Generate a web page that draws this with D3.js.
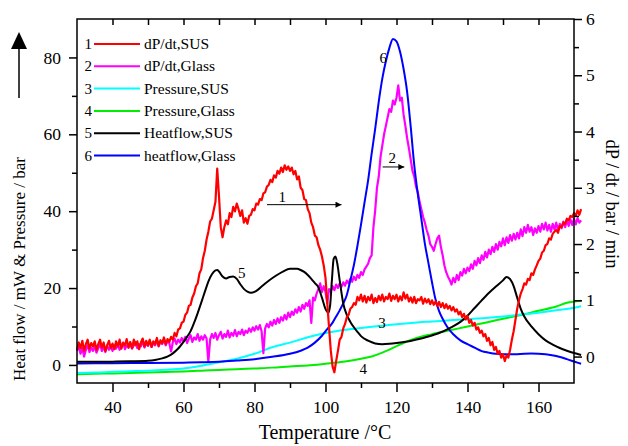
<!DOCTYPE html>
<html><head><meta charset="utf-8">
<script src="https://cdn.jsdelivr.net/npm/d3@7"></script>
<style>
body{margin:0;background:#fff;}
svg{display:block;}
svg text{font-family:"Liberation Serif","Times New Roman",serif !important;fill:#000;}
</style></head>
<body><svg id="c" width="628" height="446"></svg>
<script>
// ---- data ----
const legendLabels = ["dP/dt,SUS","dP/dt,Glass","Pressure,SUS","Pressure,Glass","Heatflow,SUS","heatflow,Glass"];
const seriesColors = ["#ff0000","#ff00ff","#00ffff","#00ee00","#000000","#0000ff"];
const xTicks = [40,60,80,100,120,140,160];
const yLeftTicks = [0,20,40,60,80];
const yRightTicks = [0,1,2,3,4,5,6];

// dP/dt series sampled every 0.5 °C from 30 °C
const dpStart = 30, dpStep = 0.5;
const dpSUS = [
0.12,0.25,0.15,0.28,0.1,0.22,0.3,0.14,0.24,0.18,
0.27,0.12,0.22,0.3,0.16,0.25,0.1,0.2,0.28,0.15,
0.23,0.13,0.27,0.18,0.3,0.14,0.24,0.2,0.31,0.16,
0.26,0.15,0.3,0.2,0.27,0.13,0.25,0.32,0.18,0.28,
0.2,0.3,0.17,0.27,0.22,0.33,0.19,0.29,0.24,0.34,
0.22,0.31,0.26,0.35,0.3,0.42,0.36,0.48,0.5,0.6,
0.62,0.74,0.78,0.9,0.92,1.05,1.12,1.25,1.3,1.48,
1.55,1.75,1.88,2.08,2.22,2.4,2.45,2.6,2.75,3.34,
2.85,2.3,2.12,2.3,2.42,2.35,2.55,2.48,2.66,2.58,
2.72,2.62,2.5,2.6,2.38,2.46,2.36,2.5,2.52,2.62,
2.6,2.72,2.7,2.8,2.78,2.9,2.92,3.02,3.05,3.14,
3.1,3.22,3.18,3.3,3.25,3.36,3.28,3.4,3.32,3.38,
3.3,3.36,3.24,3.3,3.15,3.2,3.0,2.96,2.8,2.78,
2.62,2.55,2.38,2.3,2.15,2.12,1.98,1.9,1.78,1.62,
1.4,0.95,0.52,0.1,-0.18,-0.28,-0.08,0.1,0.3,0.35,
0.5,0.58,0.7,0.74,0.85,0.88,0.95,0.92,1.06,1.0,
1.1,0.98,1.08,0.96,1.06,1.0,1.1,0.95,1.04,0.97,
1.08,1.0,1.1,0.98,1.06,1.02,1.12,0.99,1.08,1.02,
1.1,0.98,1.07,1.0,1.14,1.03,1.1,0.98,1.05,0.96,
1.06,0.95,1.02,1.0,1.06,0.94,1.03,0.96,1.02,0.93,
1.0,0.92,0.98,0.9,0.97,0.88,0.95,0.86,0.93,0.85,
0.9,0.82,0.88,0.8,0.84,0.75,0.8,0.7,0.76,0.66,
0.72,0.6,0.65,0.55,0.6,0.48,0.52,0.42,0.46,0.36,
0.4,0.28,0.33,0.2,0.26,0.12,0.17,0.05,0.1,-0.02,
0.04,-0.08,0.02,-0.02,0.12,0.3,0.45,0.65,0.85,1.0,
1.12,1.2,1.3,1.28,1.38,1.36,1.48,1.45,1.55,1.62,
1.7,1.74,1.85,1.88,1.98,2.0,2.1,2.08,2.18,2.22,
2.25,2.2,2.32,2.3,2.38,2.36,2.45,2.42,2.5,2.48,
2.55,2.5,2.6,2.52,2.62];
const dpGlass = [
0.1,0.18,0.05,0.15,0.0,0.12,0.2,0.08,0.16,0.1,
0.18,0.07,0.15,0.22,0.1,0.17,0.08,0.2,0.12,0.18,
0.1,0.2,0.14,0.22,0.12,0.19,0.25,0.13,0.2,0.16,
0.24,0.14,0.2,0.26,0.15,0.22,0.18,0.27,0.16,0.23,
0.19,0.28,0.17,0.25,0.2,0.3,0.18,0.26,0.22,0.3,
0.2,0.28,0.24,0.09,0.26,0.32,0.22,0.3,0.25,0.33,
0.27,0.35,0.24,0.32,0.38,0.26,0.34,0.3,0.4,0.28,
0.36,0.3,0.38,0.32,-0.09,0.3,0.4,0.33,0.42,0.3,
0.38,0.44,0.32,0.4,0.35,0.46,0.34,0.42,0.37,0.47,
0.36,0.44,0.4,0.48,0.38,0.46,0.42,0.5,0.44,0.52,
0.46,0.54,0.48,0.56,0.45,0.06,0.5,0.58,0.52,0.62,
0.55,0.65,0.58,0.68,0.6,0.7,0.64,0.74,0.66,0.78,
0.7,0.8,0.74,0.84,0.78,0.88,0.8,0.92,0.85,0.95,
0.9,1.0,0.6,1.05,1.0,1.12,1.2,1.3,1.15,1.25,
1.15,0.95,1.2,1.15,1.25,1.18,1.28,1.22,1.3,1.24,
1.32,1.26,1.35,1.3,1.38,1.33,1.42,1.36,1.45,1.4,
1.5,1.45,1.55,1.6,1.65,1.75,1.8,2.3,2.6,3.0,
3.2,3.55,3.75,3.95,4.1,4.25,4.4,4.35,4.55,4.48,
4.6,4.82,4.55,4.6,4.3,4.1,3.88,3.7,3.5,3.3,
3.2,3.02,2.92,2.75,2.62,2.48,2.38,2.25,2.15,2.0,
1.95,1.88,2.0,2.1,2.15,1.95,1.8,1.62,1.5,1.42,
1.36,1.28,1.4,1.32,1.45,1.36,1.5,1.44,1.56,1.48,
1.58,1.52,1.64,1.56,1.7,1.62,1.75,1.66,1.8,1.72,
1.86,1.76,1.9,1.82,1.95,1.86,2.0,1.9,2.04,1.96,
2.1,1.98,2.12,2.02,2.16,2.06,2.18,2.08,2.2,2.1,
2.26,2.14,2.3,2.2,2.34,2.22,2.3,2.16,2.28,2.2,
2.32,2.22,2.36,2.26,2.38,2.24,2.34,2.22,2.36,2.26,
2.38,2.24,2.36,2.28,2.4,2.3,2.42,2.32,2.44,2.34,
2.45,2.35,2.46,2.38,2.42];

// Pressure (bar) - [temperature, value]
const pressSUS = [[30,-2.1],[35,-2.0],[40,-1.8],[45,-1.65],[50,-1.5],[55,-1.25],[60,-0.9],[65,-0.2],[70,0.7],[75,1.6],[80,2.9],[85,4.6],[90,5.8],[95,7.2],[100,8.3],[105,9.1],[110,9.6],[115,10.1],[120,10.6],[125,11.0],[130,11.3],[135,11.6],[140,11.9],[145,12.2],[150,12.6],[155,13.1],[160,13.6],[165,14.2],[170,14.9],[172,15.3]];
const pressGlass = [[30,-2.4],[35,-2.3],[40,-2.2],[45,-2.1],[50,-2.0],[55,-1.85],[60,-1.7],[65,-1.5],[70,-1.3],[75,-1.1],[80,-0.9],[85,-0.7],[90,-0.4],[95,-0.15],[100,0.3],[105,0.8],[110,1.6],[113,2.2],[116,3.2],[118,4.0],[120,4.9],[122,5.7],[125,6.8],[130,8.0],[135,9.0],[140,10.0],[145,11.0],[150,12.0],[155,13.0],[160,14.1],[165,15.2],[168,16.2],[170,16.5],[172,16.7]];
// Heat flow (mW)
const heatSUS = [[30,0.8],[35,0.8],[40,0.85],[45,0.95],[50,1.1],[52,1.3],[54,1.7],[55,2.0],[56,2.4],[57,3.0],[58,3.8],[59,4.8],[60,6.0],[61,7.3],[62,8.8],[63,11.0],[64,13.5],[65,16.2],[66,19.0],[67,21.7],[68,23.6],[69,24.6],[69.5,24.7],[70,24.3],[71,23.0],[72,22.5],[73,22.9],[74,23.0],[75,22.4],[76,21.0],[77,19.8],[78,19.1],[79,18.8],[80,19.0],[81,19.6],[82,20.4],[84,21.9],[86,23.2],[88,24.3],[90,25.0],[92,25.0],[93,24.7],[94,24.2],[95,23.4],[96,22.4],[97,21.3],[98,20.2],[99,17.5],[100,14.6],[100.8,13.6],[101.3,15.5],[101.8,22.0],[102.3,27.6],[102.8,28.2],[103.3,26.5],[104,22.0],[105,16.0],[106,13.0],[107,11.2],[108,9.8],[109,8.6],[110,7.5],[112,6.3],[114,5.6],[116,5.4],[118,5.5],[120,5.7],[123,6.1],[126,6.7],[129,7.4],[132,8.3],[135,9.6],[138,11.2],[140,12.8],[142,14.8],[144,16.8],[146,18.7],[148,20.4],[150,22.0],[151,22.9],[152,22.3],[153,20.5],[154,17.5],[155,14.6],[156,12.6],[158,10.0],[160,8.0],[162,6.4],[164,5.3],[166,4.4],[168,3.7],[170,3.1],[172,2.6]];
const heatGlass = [[30,0.4],[40,0.45],[50,0.5],[60,0.6],[65,0.7],[70,0.85],[75,1.15],[80,1.5],[85,2.1],[90,2.9],[93,3.7],[95,4.5],[97,5.8],[99,7.6],[100.3,9.1],[102,11.0],[103,12.6],[104,14.2],[105,16.0],[106,18.2],[107,22.0],[108,26.0],[109,31.0],[110,36.5],[111,42.3],[112,48.0],[113,55.0],[114,61.5],[115,68.5],[116,74.5],[117,79.0],[118,82.5],[119,84.8],[120,84.2],[121,81.5],[122,77.0],[123,71.0],[124,62.0],[125,52.0],[126,44.5],[127,38.0],[128,31.5],[129,26.5],[130,21.5],[131,17.0],[132,14.0],[133,12.0],[134,10.3],[135,9.0],[136,8.0],[138,6.4],[140,5.4],[142,4.5],[144,3.6],[146,3.2],[148,2.9],[150,2.8],[154,2.8],[158,3.0],[162,2.8],[165,2.3],[168,1.5],[170,0.9],[172,0.3]];

// ---- chart ----
const svg = d3.select("#c");
const L=77,R=574,T=19,B=383;
const x = d3.scaleLinear([30,170],[L,R]);
const yL = d3.scaleLinear([-4.7,90],[B,T]);
const yR = d3.scaleLinear([-0.47,6],[B,T]);

const dpPts = arr => arr.map((v,i)=>[dpStart+i*dpStep, v]);
const lineL = d3.line().x(d=>x(d[0])).y(d=>yL(d[1])).curve(d3.curveMonotoneX);
const lineR = d3.line().x(d=>x(d[0])).y(d=>yR(d[1]));

const g = svg.append("g");
g.append("path").attr("d", lineL(pressGlass)).attr("fill","none").attr("stroke",seriesColors[3]).attr("stroke-width",2);
g.append("path").attr("d", lineL(pressSUS)).attr("fill","none").attr("stroke",seriesColors[2]).attr("stroke-width",2);
g.append("path").attr("d", lineR(dpPts(dpGlass))).attr("fill","none").attr("stroke",seriesColors[1]).attr("stroke-width",2.2).attr("stroke-linejoin","round");
g.append("path").attr("d", lineL(heatGlass)).attr("fill","none").attr("stroke",seriesColors[5]).attr("stroke-width",2);
g.append("path").attr("d", lineL(heatSUS)).attr("fill","none").attr("stroke",seriesColors[4]).attr("stroke-width",2);
g.append("path").attr("d", lineR(dpPts(dpSUS))).attr("fill","none").attr("stroke",seriesColors[0]).attr("stroke-width",2.2).attr("stroke-linejoin","round");

// axes
function styleAxis(sel){
  sel.attr("font-family","Liberation Serif, serif").attr("font-size",17.5);
  sel.select(".domain").remove();
  sel.selectAll("line").attr("stroke","#000").attr("stroke-width",1.5);
}
// bottom
svg.append("g").attr("transform",`translate(0,${B})`)
  .call(d3.axisBottom(x).tickValues(xTicks).tickSize(9).tickPadding(9).tickFormat(d3.format("d"))).call(styleAxis);
svg.append("g").attr("transform",`translate(0,${B})`)
  .call(d3.axisBottom(x).tickValues([50,70,90,110,130,150]).tickSize(5).tickFormat("")).call(styleAxis);
// top (inward)
svg.append("g").attr("transform",`translate(0,${T})`)
  .call(d3.axisTop(x).tickValues([40,50,60,70,80,90,100,110,120,130,140,150,160]).tickSize(-6).tickFormat("")).call(styleAxis);
// left
svg.append("g").attr("transform",`translate(${L},0)`)
  .call(d3.axisLeft(yL).tickValues(yLeftTicks).tickSize(8).tickPadding(8).tickFormat(d3.format("d"))).call(styleAxis);
svg.append("g").attr("transform",`translate(${L},0)`)
  .call(d3.axisLeft(yL).tickValues([10,30,50,70]).tickSize(5).tickFormat("")).call(styleAxis);
// right
svg.append("g").attr("transform",`translate(${R},0)`)
  .call(d3.axisRight(yR).tickValues(yRightTicks).tickSize(8).tickPadding(4).tickFormat(d3.format("d"))).call(styleAxis);
svg.append("g").attr("transform",`translate(${R},0)`)
  .call(d3.axisRight(yR).tickValues([0.5,1.5,2.5,3.5,4.5,5.5]).tickSize(5).tickFormat("")).call(styleAxis);

// frame
svg.append("rect").attr("x",L).attr("y",T).attr("width",R-L).attr("height",B-T)
  .attr("fill","none").attr("stroke","#000").attr("stroke-width",1.5);

// axis titles
svg.append("text").attr("x",325).attr("y",439).attr("text-anchor","middle")
  .attr("font-size",20).text("Temperature /°C");
svg.append("text").attr("transform","translate(25,269) rotate(-90)").attr("text-anchor","middle")
  .attr("font-size",17).text("Heat flow / mW & Pressure / bar");
svg.append("text").attr("transform","translate(606,204) rotate(90)").attr("text-anchor","middle")
  .attr("font-size",18.5).text("dP / dt / bar / min");
// up arrow on left
svg.append("line").attr("x1",19).attr("x2",19).attr("y1",98).attr("y2",46).attr("stroke","#000").attr("stroke-width",1.5);
svg.append("path").attr("d","M19,32 L11,49 L27,49 Z").attr("fill","#000");

// legend
const lg = svg.append("g");
legendLabels.forEach((lab,i)=>{
  const yy = 44 + i*22.3;
  lg.append("text").attr("x",92).attr("y",yy+5).attr("text-anchor","end").attr("font-size",15).text(i+1);
  lg.append("line").attr("x1",94).attr("x2",140).attr("y1",yy).attr("y2",yy).attr("stroke",seriesColors[i]).attr("stroke-width",2);
  lg.append("text").attr("x",144).attr("y",yy+5).attr("font-size",15.5).text(lab);
});

// annotations
const ann = svg.append("g").attr("font-size",15);
svg.append("defs").append("marker").attr("id","ah").attr("viewBox","0 0 10 10").attr("refX",10).attr("refY",5)
  .attr("markerWidth",9).attr("markerHeight",6).attr("markerUnits","userSpaceOnUse").attr("orient","auto")
  .append("path").attr("d","M0,0 L10,5 L0,10 Z").attr("fill","#000");
ann.append("line").attr("x1",x(83.5)).attr("x2",x(104.5)).attr("y1",yR(2.7)).attr("y2",yR(2.7)).attr("stroke","#000").attr("stroke-width",1).attr("marker-end","url(#ah)");
ann.append("text").attr("x",x(87.8)).attr("y",yR(2.7)-3).attr("text-anchor","middle").text("1");
ann.append("line").attr("x1",x(116.1)).attr("x2",x(122.2)).attr("y1",yR(3.37)).attr("y2",yR(3.37)).attr("stroke","#000").attr("stroke-width",1).attr("marker-end","url(#ah)");
ann.append("text").attr("x",x(118.8)).attr("y",yR(3.37)-4).attr("text-anchor","middle").text("2");
ann.append("text").attr("x",x(115.9)).attr("y",yL(9.5)).attr("text-anchor","middle").text("3");
ann.append("text").attr("x",x(110.6)).attr("y",yL(-2.3)).attr("text-anchor","middle").text("4");
ann.append("text").attr("x",x(76.4)).attr("y",yL(22.6)).attr("text-anchor","middle").text("5");
ann.append("text").attr("x",x(116.3)).attr("y",yL(78.6)).attr("text-anchor","middle").text("6");
</script></body></html>
